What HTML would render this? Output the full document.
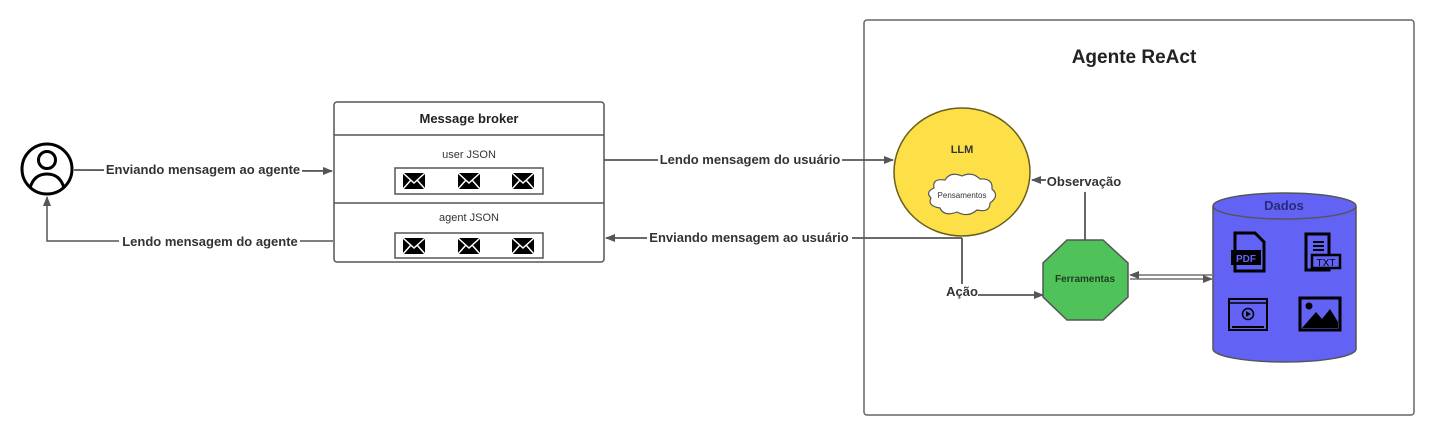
<!DOCTYPE html>
<html><head><meta charset="utf-8"><style>
html,body{margin:0;padding:0;background:#fff;}
svg{display:block;font-family:"Liberation Sans",sans-serif;}
.lb{font-weight:bold;font-size:13px;fill:#333;}
</style></head><body>
<svg width="1434" height="436" viewBox="0 0 1434 436">
<defs>
<marker id="ah" markerWidth="10" markerHeight="8" refX="9" refY="4" orient="auto" markerUnits="userSpaceOnUse">
<path d="M0,0 L10,4 L0,8 Z" fill="#555"/></marker>
<g id="env"><rect x="-11" y="-8" width="22" height="16" fill="#000"/><path d="M-11,-8 L0,2 L11,-8 M-11,8 L-3,-1 M11,8 L3,-1" stroke="#fff" stroke-width="1.5" fill="none"/></g>
</defs>
<rect width="1434" height="436" fill="#fff"/>
<!-- outer agent box -->
<rect x="864" y="20" width="550" height="395" rx="3" fill="#fff" stroke="#666" stroke-width="1.5"/>
<text x="1134" y="63" text-anchor="middle" font-weight="bold" font-size="19" fill="#222">Agente ReAct</text>

<!-- person -->
<circle cx="47" cy="169" r="25" fill="#fff" stroke="#000" stroke-width="3"/>
<circle cx="47" cy="160" r="8.5" fill="none" stroke="#000" stroke-width="3"/>
<path d="M30,188 Q34,174 47,174 Q60,174 64,188" fill="none" stroke="#000" stroke-width="3"/>

<!-- arrows left -->
<line x1="74" y1="170" x2="332" y2="171" stroke="#555" stroke-width="1.8" marker-end="url(#ah)"/>
<rect x="104" y="162" width="198" height="16" fill="#fff"/>
<text x="203" y="174" text-anchor="middle" class="lb">Enviando mensagem ao agente</text>
<polyline points="333,241 47,241 47,197" fill="none" stroke="#555" stroke-width="1.5" marker-end="url(#ah)"/>
<rect x="119" y="234" width="181" height="16" fill="#fff"/>
<text x="210" y="246" text-anchor="middle" class="lb">Lendo mensagem do agente</text>

<!-- message broker -->
<rect x="334" y="102" width="270" height="160" rx="3" fill="#fff" stroke="#555" stroke-width="1.5"/>
<line x1="334" y1="135" x2="604" y2="135" stroke="#555" stroke-width="1.5"/>
<line x1="334" y1="203" x2="604" y2="203" stroke="#555" stroke-width="1.5"/>
<text x="469" y="123" text-anchor="middle" font-weight="bold" font-size="13" fill="#222">Message broker</text>
<text x="469" y="158" text-anchor="middle" font-size="11" fill="#333">user JSON</text>
<text x="469" y="221" text-anchor="middle" font-size="11" fill="#333">agent JSON</text>
<rect x="395" y="168" width="148" height="26" fill="#fff" stroke="#555" stroke-width="1.5"/>
<rect x="395" y="233" width="148" height="25" fill="#fff" stroke="#555" stroke-width="1.5"/>
<use href="#env" x="414" y="181"/><use href="#env" x="469" y="181"/><use href="#env" x="523" y="181"/>
<use href="#env" x="414" y="246"/><use href="#env" x="469" y="246"/><use href="#env" x="523" y="246"/>

<!-- middle arrows -->
<line x1="604" y1="160" x2="893" y2="160" stroke="#555" stroke-width="1.8" marker-end="url(#ah)"/>
<rect x="658" y="152" width="184" height="16" fill="#fff"/>
<text x="750" y="164" text-anchor="middle" class="lb">Lendo mensagem do usuário</text>
<line x1="962" y1="238" x2="606" y2="238" stroke="#555" stroke-width="1.8" marker-end="url(#ah)"/>
<rect x="647" y="230" width="205" height="16" fill="#fff"/>
<text x="749" y="242" text-anchor="middle" class="lb">Enviando mensagem ao usuário</text>
<line x1="962" y1="238" x2="962" y2="284" stroke="#555" stroke-width="1.8"/>
<text x="962" y="296" text-anchor="middle" class="lb">Ação</text>
<line x1="978" y1="295" x2="1043" y2="295" stroke="#555" stroke-width="1.8" marker-end="url(#ah)"/>

<!-- LLM -->
<ellipse cx="962" cy="172" rx="68" ry="64" fill="#fde047" stroke="#6b5e1a" stroke-width="1.5"/>
<text x="962" y="153" text-anchor="middle" font-weight="bold" font-size="11" fill="#333">LLM</text>
<path d="M934,188 Q932,178 945,180 Q950,171 962,176 Q972,171 980,179 Q993,178 992,189 Q1000,196 990,203 Q990,213 977,210 Q968,218 957,212 Q944,217 940,208 Q927,206 931,198 Q925,192 934,188 Z" fill="#fff" stroke="#555" stroke-width="1.2"/>
<text x="962" y="198" text-anchor="middle" font-size="8" fill="#333">Pensamentos</text>

<!-- Observação -->
<line x1="1085" y1="240" x2="1085" y2="192" stroke="#555" stroke-width="1.8"/>
<text x="1084" y="186" text-anchor="middle" class="lb">Observação</text>
<line x1="1046" y1="180" x2="1032" y2="180" stroke="#555" stroke-width="1.8" marker-end="url(#ah)"/>

<!-- Ferramentas octagon -->
<polygon points="1067,240 1103,240 1128,263 1128,297 1103,320 1067,320 1043,297 1043,263" fill="#4fc35a" stroke="#555" stroke-width="1.5"/>
<text x="1085" y="282" text-anchor="middle" font-weight="bold" font-size="10" fill="#1f3d22">Ferramentas</text>

<!-- double arrows -->
<line x1="1212" y1="275" x2="1130" y2="275" stroke="#555" stroke-width="1.2" marker-end="url(#ah)"/>
<line x1="1130" y1="279" x2="1212" y2="279" stroke="#555" stroke-width="1.2" marker-end="url(#ah)"/>

<!-- cylinder -->
<path d="M1213,206 L1213,349 A71.5,13 0 0 0 1356,349 L1356,206" fill="#6262f4" stroke="#555" stroke-width="1.5"/>
<ellipse cx="1284.5" cy="206" rx="71.5" ry="13" fill="#6262f4" stroke="#555" stroke-width="1.5"/>
<text x="1284" y="210" text-anchor="middle" font-weight="bold" font-size="13" fill="#2a2a7a">Dados</text>

<!-- icons -->
<path d="M1235,233 L1255,233 L1264,242 L1264,271 L1235,271 Z" fill="none" stroke="#000" stroke-width="3"/>
<rect x="1231" y="250" width="30" height="15" fill="#000"/>
<text x="1246" y="262" text-anchor="middle" font-size="10" fill="#6262f4" font-weight="bold">PDF</text>
<path d="M1306,234 L1329,234 L1329,270 L1306,270 L1306,239 Z" fill="none" stroke="#000" stroke-width="3"/>
<line x1="1313" y1="242" x2="1324" y2="242" stroke="#000" stroke-width="2"/>
<line x1="1313" y1="246" x2="1324" y2="246" stroke="#000" stroke-width="2"/>
<line x1="1313" y1="250" x2="1324" y2="250" stroke="#000" stroke-width="2"/>
<rect x="1312" y="255" width="28" height="13" fill="#6262f4" stroke="#000" stroke-width="2.5"/>
<text x="1326" y="266" text-anchor="middle" font-size="10" fill="#000">TXT</text>
<rect x="1229" y="299" width="38" height="31" fill="none" stroke="#000" stroke-width="2"/>
<line x1="1229" y1="303" x2="1267" y2="303" stroke="#000" stroke-width="1.5"/>
<line x1="1232" y1="327" x2="1264" y2="327" stroke="#000" stroke-width="2"/>
<circle cx="1248" cy="314" r="5.5" fill="none" stroke="#000" stroke-width="1.5"/>
<path d="M1246,311 L1251,314 L1246,317 Z" fill="#000"/>
<rect x="1300" y="298" width="40" height="32" fill="none" stroke="#000" stroke-width="3"/>
<circle cx="1309" cy="306" r="3.5" fill="#000"/>
<path d="M1302,328 L1316,312 L1322,319 L1330,309 L1338,322 L1338,328 Z" fill="#000"/>
</svg>
</body></html>
